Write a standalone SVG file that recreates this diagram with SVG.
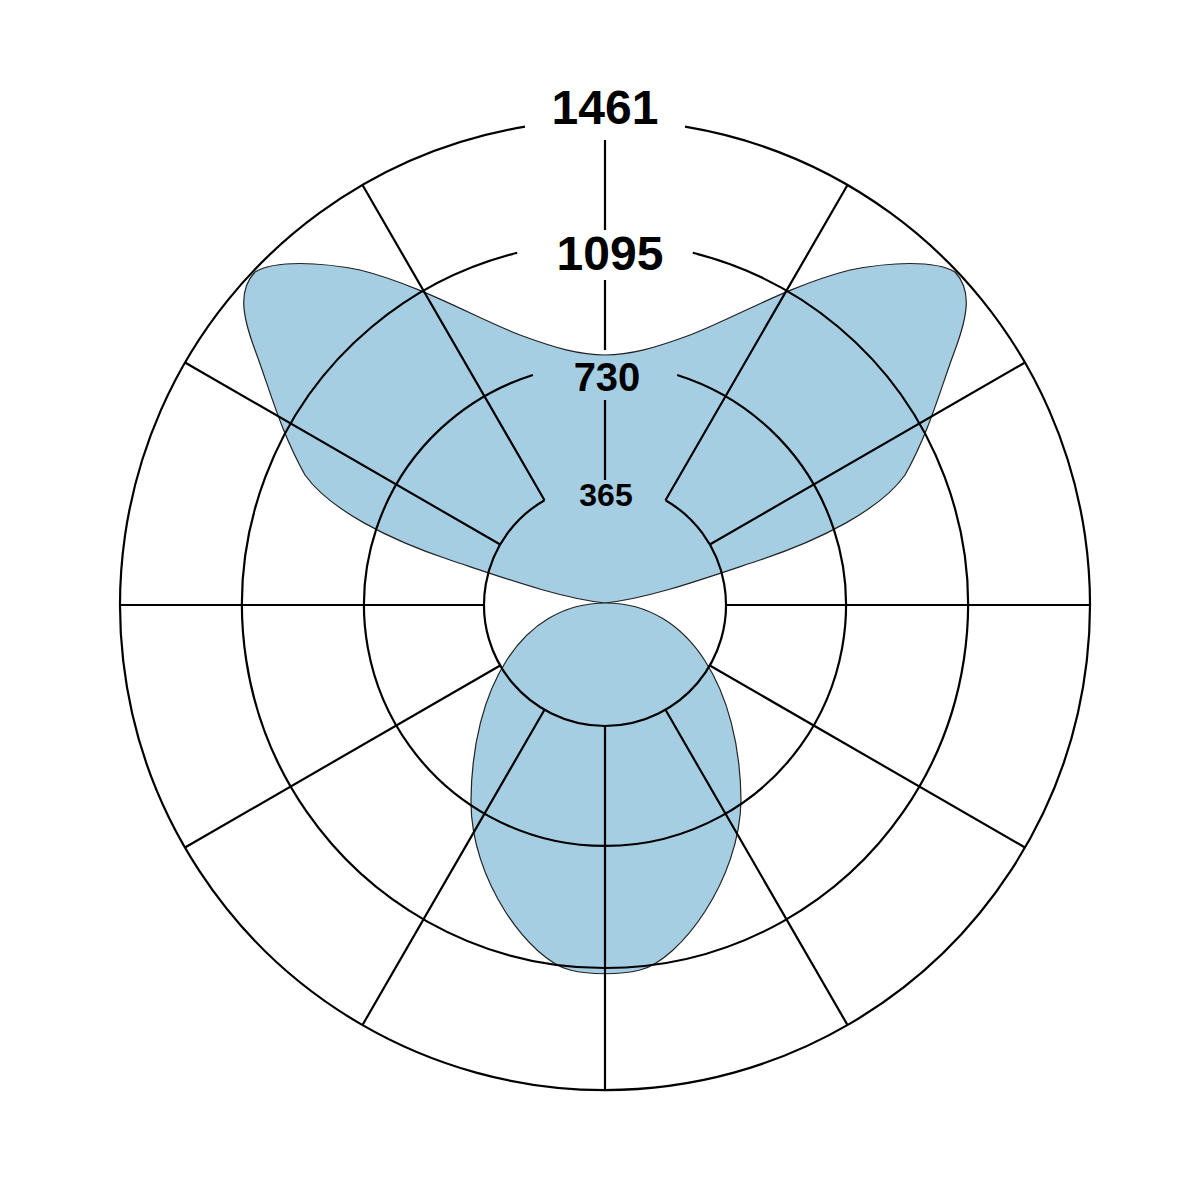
<svg xmlns="http://www.w3.org/2000/svg" width="1201" height="1201" viewBox="0 0 1201 1201">
<style>
.g{fill:none;stroke:#000;stroke-width:2.2}
.s{fill:#a6cee3;stroke:#222;stroke-width:1.2}
.t{font-family:"Liberation Sans",Arial,sans-serif;font-weight:bold;text-anchor:middle;fill:#000}
</style>
<rect width="1201" height="1201" fill="#fff"/>
<g id="curve">
<path class="s" d="M605,603 C650,598 700,580 760,560 C820,540 880,510 905,475 C930,430 940,390 955,350 C968,315 972,290 955,272 C935,260 890,262 850,270 C790,285 730,320 690,335 C655,348 630,355 605,355 C580,355 555,348 520,335 C480,320 420,285 360,270 C320,262 275,260 255,272 C238,290 242,315 255,350 C270,390 280,430 305,475 C330,510 390,540 450,560 C510,580 560,598 605,603 Z"/>
<path class="s" d="M606,603 C690,603 740,690 741,800 C740,880 680,960 640,970 C620,975 590,975 570,970 C530,960 470,880 471,800 C472,690 520,603 606,603 Z"/>
</g>
<g id="grid">
<path class="g" d="M685,126.7 A485,485 0 1 1 525,126.7"/>
<path class="g" d="M692.8,252.8 A363,363 0 1 1 517.2,252.8"/>
<path class="g" d="M677.1,375 A241,241 0 1 1 532.9,375"/>
<path class="g" d="M665.5,500.2 A121,121 0 1 1 544.5,500.2"/>
<g class="g">
<path d="M605,140V230M605,280V350M605,400V480"/>
<path d="M605,726V1090"/>
<path d="M665.5,500.2L847.5,185M709.8,544.5L1025,362.5M726,605H1090M709.8,665.5L1025,847.5M665.5,709.8L847.5,1025"/>
<path d="M544.5,500.2L362.5,185M500.2,544.5L185,362.5M484,605H120M500.2,665.5L185,847.5M544.5,709.8L362.5,1025"/>
</g>
</g>
<g id="labels">
<text class="t" x="605" y="124" font-size="48">1461</text>
<text class="t" x="610" y="270" font-size="48">1095</text>
<text class="t" x="607" y="391" font-size="40">730</text>
<text class="t" x="606" y="506" font-size="32">365</text>
</g>
</svg>
